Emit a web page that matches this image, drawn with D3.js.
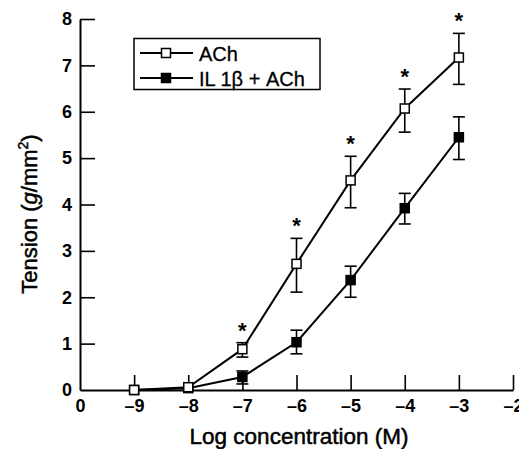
<!DOCTYPE html>
<html><head><meta charset="utf-8">
<script src="https://cdn.jsdelivr.net/npm/d3@7"></script>
<style>
body{margin:0;background:#fff;}
svg text{font-family:"Liberation Sans",Arial,Helvetica,sans-serif;fill:#000;}
</style></head>
<body><svg id="c" width="519" height="449"></svg>
<script>
const logConc = [-9, -8, -7, -6, -5, -4, -3];
const achMean = [0.0, 0.06, 0.88, 2.72, 4.52, 6.07, 7.17];
const achLow  = [0.0, 0.06, 0.71, 2.11, 3.93, 5.56, 6.59];
const achHigh = [0.0, 0.06, 1.02, 3.27, 5.04, 6.49, 7.69];
const ilMean  = [0.0, 0.04, 0.28, 1.03, 2.37, 3.92, 5.45];
const ilLow   = [0.0, 0.04, 0.13, 0.78, 2.00, 3.58, 4.97];
const ilHigh  = [0.0, 0.04, 0.41, 1.29, 2.67, 4.24, 5.89];
const significant = [false, false, true, true, true, true, true];
const xTicks = [-10, -9, -8, -7, -6, -5, -4, -3, -2];
const xTickLabels = ["0", "–9", "–8", "–7", "–6", "–5", "–4", "–3", "–2"];
const yTicks = [0, 1, 2, 3, 4, 5, 6, 7, 8];
const seriesNames = ["ACh", "IL 1β + ACh"];

const svg = d3.select("#c");
const x = d3.scaleLinear().domain([-10, -2]).range([80, 513]);
const y = d3.scaleLinear().domain([0, 8]).range([390, 19]);

// axes
const xAxis = d3.axisBottom(x).tickValues(xTicks)
  .tickFormat((d,i)=>xTickLabels[i]).tickSizeInner(-15).tickSizeOuter(0).tickPadding(10);
const gx = svg.append("g").attr("transform","translate(0,390)").call(xAxis);
gx.select(".domain").attr("stroke","#000").attr("stroke-width",2);
gx.selectAll(".tick line").attr("stroke","#000").attr("stroke-width",1.6);
gx.selectAll(".tick text").attr("font-size",18).attr("font-weight","bold").attr("dy","0.72em").attr("y",9);
gx.selectAll(".tick").filter(d=>d===-10).select("line").remove();

const yAxis = d3.axisLeft(y).tickValues(yTicks)
  .tickSizeInner(-15).tickSizeOuter(0).tickPadding(8);
const gy = svg.append("g").attr("transform","translate(80,0)").call(yAxis);
gy.select(".domain").attr("stroke","#000").attr("stroke-width",2);
gy.selectAll(".tick line").attr("stroke","#000").attr("stroke-width",1.6);
gy.selectAll(".tick text").attr("font-size",18).attr("font-weight","bold").attr("x",-8);
gy.selectAll(".tick").filter(d=>d===0).select("line").remove();

// titles
svg.append("text").attr("x",299).attr("y",444).attr("text-anchor","middle")
  .attr("font-size",22.5).attr("stroke","#000").attr("stroke-width",0.5).text("Log concentration (M)");
const yt = svg.append("text").attr("transform","translate(37,214) rotate(-90)")
  .attr("text-anchor","middle").attr("font-size",22).attr("stroke","#000").attr("stroke-width",0.5);
yt.append("tspan").text("Tension (");
yt.append("tspan").attr("font-style","italic").text("g");
yt.append("tspan").text("/mm");
yt.append("tspan").attr("font-size",14).attr("dy",-9).text("2");
yt.append("tspan").attr("dy",9).text(")");

const series = [
  {mean: ilMean, low: ilLow, high: ilHigh, fill: "#000"},
  {mean: achMean, low: achLow, high: achHigh, fill: "#fff"}
];
const line = d3.line().x(d=>x(d[0])).y(d=>y(d[1]));

series.forEach(s=>{
  const pts = logConc.map((c,i)=>[c, s.mean[i]]);
  svg.append("path").attr("d", line(pts)).attr("fill","none").attr("stroke","#000").attr("stroke-width",2);
  const g = svg.append("g");
  logConc.forEach((c,i)=>{
    if (s.high[i] - s.low[i] > 0.01) {
      g.append("line").attr("x1",x(c)).attr("x2",x(c)).attr("y1",y(s.low[i])).attr("y2",y(s.high[i]))
        .attr("stroke","#000").attr("stroke-width",1.6);
      [s.low[i], s.high[i]].forEach(v=>{
        g.append("line").attr("x1",x(c)-6).attr("x2",x(c)+6).attr("y1",y(v)).attr("y2",y(v))
          .attr("stroke","#000").attr("stroke-width",1.6);
      });
    }
  });
});
series.forEach(s=>{
  logConc.forEach((c,i)=>{
    svg.append("rect").attr("x",x(c)-4.5).attr("y",y(s.mean[i])-4.5).attr("width",9).attr("height",9)
      .attr("fill",s.fill).attr("stroke","#000").attr("stroke-width",1.5);
  });
});

// significance stars
logConc.forEach((c,i)=>{
  if (significant[i]) {
    svg.append("text").attr("x",x(c)).attr("y",y(achHigh[i])-5).attr("text-anchor","middle")
      .attr("font-size",22).attr("font-weight","bold").text("*");
  }
});

// legend
const lg = svg.append("g");
lg.append("rect").attr("x",134).attr("y",38.5).attr("width",186).attr("height",51)
  .attr("fill","#fff").attr("stroke","#000").attr("stroke-width",1.5);
const legendFills = ["#fff", "#000"];
seriesNames.forEach((n,i)=>{
  const yy = 53 + i*25;
  lg.append("line").attr("x1",140).attr("x2",193).attr("y1",yy).attr("y2",yy).attr("stroke","#000").attr("stroke-width",2);
  lg.append("rect").attr("x",166-4.5).attr("y",yy-4.5).attr("width",9).attr("height",9)
    .attr("fill",legendFills[i]).attr("stroke","#000").attr("stroke-width",1.5);
  lg.append("text").attr("x",199).attr("y",yy+7.5).attr("font-size",20)
    .attr("stroke","#000").attr("stroke-width",0.3).text(n);
});
</script></body></html>
